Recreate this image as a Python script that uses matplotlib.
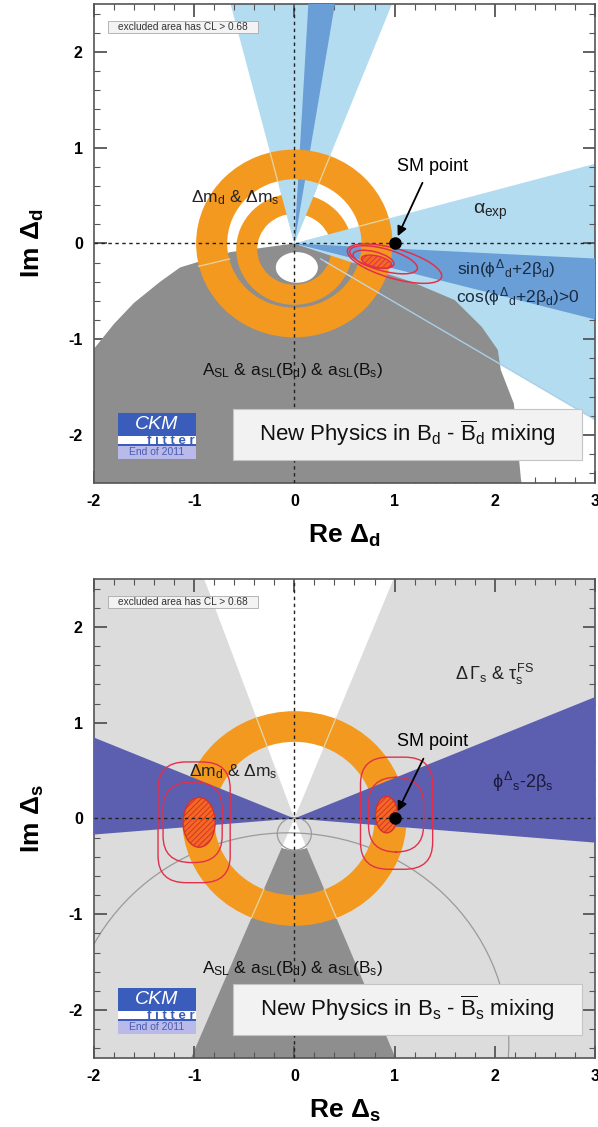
import numpy as np
import matplotlib
matplotlib.use("Agg")
import matplotlib.pyplot as plt
from matplotlib.patches import Wedge, Polygon, Ellipse, Circle, Rectangle, FancyBboxPatch
from matplotlib.ticker import MultipleLocator

plt.rcParams["font.family"] = ["Liberation Sans", "DejaVu Sans"]
plt.rcParams["mathtext.fontset"] = "custom"
plt.rcParams["mathtext.rm"] = "Liberation Sans"
plt.rcParams["mathtext.it"] = "Liberation Sans"
plt.rcParams["mathtext.bf"] = "Liberation Sans:bold"
plt.rcParams["hatch.linewidth"] = 0.7

# ---------------------------------------------------------------- data
xticks = [-2, -1, 0, 1, 2, 3]
yticks = [-2, -1, 0, 1, 2]
sm_point = (1.0, 0.0)

# B_d panel: wedge angles (deg) from the origin
alpha_wedges = [(-31.5, 15.5), (68.7, 104.3)]
alpha_over_ring = [(-19.0, 15.5), (68.7, 104.3)]
sin_wedges = [(-14.8, -3.0), (80.8, 86.8)]
# A_SL excluded region (outline)
asl_re = [0.0, -0.64, -1.14, -1.34, -1.6, -1.8, -2.0, -2.1, -2.1, 2.28, 2.26,
          2.19, 2.06, 2.03, 1.87, 1.6, 1.17]
asl_im = [0.0, -0.09, -0.25, -0.40, -0.62, -0.84, -1.1, -1.2, -2.6, -2.6, -2.45,
          -1.67, -1.32, -1.11, -0.87, -0.59, -0.40]
asl_hole = (0.025, -0.25, 0.42, 0.32)          # x, y, width, height
dm_rings_d = [((0.0, -0.06), 0.37, 0.58), ((0.0, 0.0), 0.67, 0.98)]
# fit contours: x, y, width, height, angle
fit_d_lines = [(1.0, -0.21, 0.98, 0.31, -17), (0.89, -0.17, 0.70, 0.23, -16),
               (0.79, -0.165, 0.42, 0.16, -15)]
fit_d_fill = (0.82, -0.19, 0.31, 0.12, -14)

# B_s panel
white_wedge_s = (68.4, 109.8)
asl_wedge_s = (-112.4, -68.0)
asl_inner_r = 0.33
phi_wedges = [(-4.8, 22.9), (157.1, 184.8)]
dm_ring_s = ((0.0, 0.0), 0.80, 1.12)
big_circle = ((-0.06, -2.35), 2.2)
small_circle = ((0.0, -0.16), 0.17)
# rounded contour boxes: x0, x1, y0, y1
fit_s_lines = [(-1.36, -0.64, -0.67, 0.59), (-1.31, -0.72, -0.46, 0.38),
               (0.66, 1.38, -0.53, 0.64), (0.74, 1.29, -0.35, 0.43)]
fit_s_fill = [(-0.95, -0.04, 0.32, 0.52, 0), (0.92, 0.04, 0.22, 0.38, 0)]

ORANGE = "#f4991f"
LBLUE = "#b4dcf1"
DBLUE = "#699fd6"
GRAY = "#8e8e8e"
LGRAY = "#dcdcdc"
INDIGO = "#5c5fb0"
RED = "#e2304a"
EDGE = "#e2d6a6"


def ray(ax, ang, r0, r1, color, lw=0.9, z=5, alpha=1.0):
    a = np.deg2rad(ang)
    ax.plot([r0 * np.cos(a), r1 * np.cos(a)], [r0 * np.sin(a), r1 * np.sin(a)],
            color=color, lw=lw, zorder=z, alpha=alpha, solid_capstyle="butt")


def frame(ax, sub, title):
    ax.set_xlim(-2, 3)
    ax.set_ylim(-2.5, 2.5)
    ax.set_xticks(xticks)
    ax.set_xticklabels([str(t) for t in xticks], fontweight="bold", fontsize=11.5)
    ax.set_yticks(yticks)
    ax.set_yticklabels([str(t) for t in yticks], fontweight="bold", fontsize=11.5)
    ax.xaxis.set_minor_locator(MultipleLocator(0.2))
    ax.yaxis.set_minor_locator(MultipleLocator(0.2))
    ax.tick_params(which="both", direction="in", top=True, right=True, color="#555555")
    ax.tick_params(which="major", length=9, width=1.3, pad=8)
    ax.tick_params(which="minor", length=4.5, width=0.8)
    for s in ax.spines.values():
        s.set_color("#555555")
        s.set_linewidth(1.2)
    ax.set_xlabel("Re \u0394$_\\mathbf{%s}$" % sub, fontsize=19, fontweight="bold", labelpad=10)
    ax.set_ylabel("Im \u0394$_\\mathbf{%s}$" % sub, fontsize=19, fontweight="bold", labelpad=16)

    ax.axhline(0, color="#222222", lw=1.0, ls=(0, (2.5, 2.5)), zorder=8)
    ax.axvline(0, color="#222222", lw=1.0, ls=(0, (2.5, 2.5)), zorder=8)
    ax.plot(*sm_point, "o", color="black", ms=8, zorder=12)

    # CL note
    ax.add_patch(Rectangle((0.028, 0.939), 0.299, 0.025, transform=ax.transAxes,
                           fc="#f3f3f3", ec="#aaaaaa", lw=0.6, zorder=13))
    ax.text(0.178, 0.9515, "excluded area has CL > 0.68", transform=ax.transAxes,
            ha="center", va="center", fontsize=7.3, color="#333333", zorder=14)

    # title box
    ax.add_patch(Rectangle((0.277, 0.049), 0.697, 0.106, transform=ax.transAxes,
                           fc="#f2f2f2", ec="#c4c4c4", lw=0.8, zorder=13))
    ax.text(0.625, 0.103, title, transform=ax.transAxes, ha="center", va="center",
            fontsize=16, color="#111111", zorder=14)

    # CKMfitter logo
    ax.add_patch(Rectangle((0.048, 0.098), 0.156, 0.048, transform=ax.transAxes,
                           fc="#3a5cba", ec="none", zorder=13))
    ax.add_patch(Rectangle((0.048, 0.081), 0.156, 0.017, transform=ax.transAxes,
                           fc="white", ec="none", zorder=13))
    ax.add_patch(Rectangle((0.048, 0.078), 0.156, 0.004, transform=ax.transAxes,
                           fc="#3a5cba", ec="none", zorder=13))
    ax.add_patch(Rectangle((0.048, 0.050), 0.156, 0.028, transform=ax.transAxes,
                           fc="#b9b9ea", ec="none", zorder=13))
    ax.text(0.125, 0.123, "CKM", transform=ax.transAxes, ha="center", va="center",
            fontsize=14, style="italic", color="white", zorder=14)
    ax.text(0.202, 0.0885, "f i t t e r", transform=ax.transAxes, ha="right", va="center",
            fontsize=9.5, fontweight="bold", color="#3a5cba", zorder=14)
    ax.text(0.126, 0.064, "End of 2011", transform=ax.transAxes, ha="center",
            va="center", fontsize=7.5, color="#4a5cb0", zorder=14)


fig = plt.figure(figsize=(5.98, 11.27), dpi=100)
ax1 = fig.add_axes([0.157, 0.5714, 0.838, 0.4251])
ax2 = fig.add_axes([0.157, 0.0612, 0.838, 0.4251])

# ---------------------------------------------------------------- B_d panel
for a0, a1 in alpha_wedges:
    ax1.add_patch(Wedge((0, 0), 6, a0, a1, fc=LBLUE, ec="none", zorder=1))
ax1.add_patch(Polygon(list(zip(asl_re, asl_im)), closed=True, fc=GRAY, ec="none", zorder=2))
ray(ax1, -31.5, 0.3, 6, "#a8cfe6", lw=1.0, z=2.5)
hx, hy, hw, hh = asl_hole
ax1.add_patch(Ellipse((hx, hy), hw, hh, fc="white", ec="none", zorder=3))
c, r0, r1 = dm_rings_d[0]
ax1.add_patch(Wedge(c, r1, 0, 360, width=r1 - r0, fc=ORANGE, ec="none", zorder=4))
for a0, a1 in alpha_over_ring:
    ax1.add_patch(Wedge((0, 0), 0.62, a0, a1, fc=LBLUE, ec="none", zorder=5))
for a0, a1 in sin_wedges:
    ax1.add_patch(Wedge((0, 0), 6, a0, a1, fc=DBLUE, ec="none", zorder=6))
c, r0, r1 = dm_rings_d[1]
ax1.add_patch(Wedge(c, r1, 0, 360, width=r1 - r0, fc=ORANGE, ec="none", zorder=7))
for ang in [15.5, 68.7, 104.3, 194.0]:
    ray(ax1, ang, 0.66, 0.99, EDGE, lw=0.9, z=7.5)
ray(ax1, -31.5, 0.36, 0.99, "#c9d7dc", lw=0.9, z=7.5)

for x, y, w, h, ang in fit_d_lines:
    ax1.add_patch(Ellipse((x, y), w, h, angle=ang, fc="none", ec=RED, lw=1.1, zorder=10))
x, y, w, h, ang = fit_d_fill
ax1.add_patch(Ellipse((x, y), w, h, angle=ang, fc="#f26a22", ec=RED, lw=1.0,
                      hatch="//////", zorder=9))

ax1.text(-0.59, 0.48, "$\\Delta$m$_\\mathrm{d}$ & $\\Delta$m$_\\mathrm{s}$",
         ha="center", va="center", fontsize=12.5, color="#222222", zorder=11)
ax1.text(1.38, 0.80, "SM point", ha="center", va="center", fontsize=13, zorder=11)
ax1.annotate("", xy=(1.02, 0.05), xytext=(1.29, 0.66),
             arrowprops=dict(arrowstyle="-|>", color="black", lw=1.3,
                             mutation_scale=14), zorder=11)
ax1.text(1.96, 0.33, "$\\alpha_\\mathrm{exp}$", ha="center", va="center",
         fontsize=14, color="#222222", zorder=11)
ax1.text(2.11, -0.26, "sin($\\phi^\\Delta{}_\\mathrm{d}$+2$\\beta_\\mathrm{d}$)",
         ha="center", va="center", fontsize=12.5, color="#1a2a40", zorder=11)
ax1.text(2.23, -0.55, "cos($\\phi^\\Delta{}_\\mathrm{d}$+2$\\beta_\\mathrm{d}$)>0",
         ha="center", va="center", fontsize=12.5, color="#1a2a40", zorder=11)
ax1.text(-0.02, -1.33,
         "A$_\\mathrm{SL}$ & a$_\\mathrm{SL}$(B$_\\mathrm{d}$) & a$_\\mathrm{SL}$(B$_\\mathrm{s}$)",
         ha="center", va="center", fontsize=12.5, color="#111111", zorder=11)

frame(ax1, "d", "New Physics in B$_\\mathrm{d}$ - $\\overline{\\mathrm{B}}_\\mathrm{d}$ mixing")

# ---------------------------------------------------------------- B_s panel
ax2.set_facecolor(LGRAY)
ax2.add_patch(Wedge((0, 0), 6, *white_wedge_s, fc="white", ec="none", zorder=1))
ax2.add_patch(Wedge((0, 0), 6, *asl_wedge_s, width=6 - asl_inner_r, fc=GRAY,
                    ec="none", zorder=1))
ax2.add_patch(Wedge((0, 0), asl_inner_r, *asl_wedge_s, fc="white", ec="none", zorder=1))
c, r = big_circle
ax2.add_patch(Circle(c, r, fc="none", ec="#9a9a9a", lw=0.9, zorder=1.5))
c, r = small_circle
ax2.add_patch(Circle(c, r, fc="none", ec="#9a9a9a", lw=0.9, zorder=1.5))
c, r0, r1 = dm_ring_s
ax2.add_patch(Wedge(c, r1, 0, 360, width=r1 - r0, fc=ORANGE, ec="none", zorder=3))
for ang in list(white_wedge_s) + list(asl_wedge_s):
    ray(ax2, ang, 0.79, 1.13, EDGE, lw=0.9, z=3.5)
for a0, a1 in phi_wedges:
    ax2.add_patch(Wedge((0, 0), 6, a0, a1, fc=INDIGO, ec="none", zorder=4))

for x, y, w, h, ang in fit_s_fill:
    ax2.add_patch(Ellipse((x, y), w, h, angle=ang, fc="#f26a22", ec="#d8302a", lw=1.0,
                          hatch="//////", zorder=5))
for x0, x1, y0, y1 in fit_s_lines:
    ax2.add_patch(FancyBboxPatch((x0, y0), x1 - x0, y1 - y0,
                                 boxstyle="round,pad=0,rounding_size=0.28",
                                 fc="none", ec=RED, lw=1.0, zorder=10))

ax2.text(2.0, 1.5, "$\\Delta\\,\\Gamma_\\mathrm{s}$ & $\\tau_\\mathrm{s}^\\mathrm{FS}$",
         ha="center", va="center", fontsize=13, color="#222222", zorder=11)
ax2.text(1.38, 0.80, "SM point", ha="center", va="center", fontsize=13, zorder=11)
ax2.annotate("", xy=(1.02, 0.05), xytext=(1.30, 0.65),
             arrowprops=dict(arrowstyle="-|>", color="black", lw=1.3,
                             mutation_scale=14), zorder=11)
ax2.text(2.28, 0.38, "$\\phi^\\Delta{}_\\mathrm{s}$-2$\\beta_\\mathrm{s}$",
         ha="center", va="center", fontsize=13, color="#1a1a3a", zorder=11)
ax2.text(-0.61, 0.49, "$\\Delta$m$_\\mathrm{d}$ & $\\Delta$m$_\\mathrm{s}$",
         ha="center", va="center", fontsize=12.5, color="#222222", zorder=11)
ax2.text(-0.02, -1.57,
         "A$_\\mathrm{SL}$ & a$_\\mathrm{SL}$(B$_\\mathrm{d}$) & a$_\\mathrm{SL}$(B$_\\mathrm{s}$)",
         ha="center", va="center", fontsize=12.5, color="#111111", zorder=11)

frame(ax2, "s", "New Physics in B$_\\mathrm{s}$ - $\\overline{\\mathrm{B}}_\\mathrm{s}$ mixing")

fig.savefig("out.png", dpi=100)
